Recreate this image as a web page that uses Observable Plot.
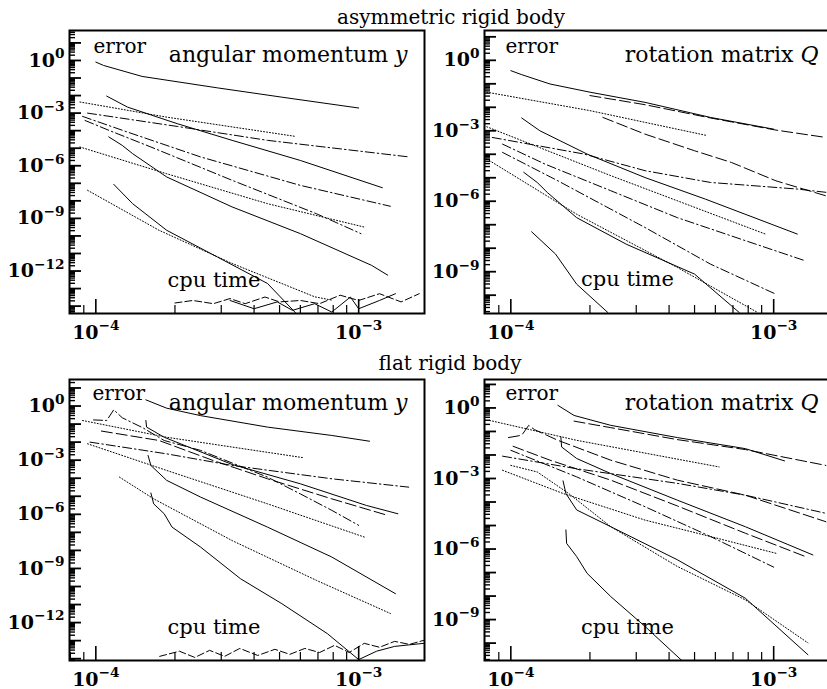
<!DOCTYPE html>
<html><head><meta charset="utf-8">
<script src="https://cdn.jsdelivr.net/npm/d3@7"></script>
<script src="https://cdn.jsdelivr.net/npm/@observablehq/plot@0.6"></script>
<style>
html,body{margin:0;padding:0;background:#fff;}
body{width:827px;height:689px;overflow:hidden;position:relative;font-family:"DejaVu Serif",serif;}
.title{position:absolute;font-size:20px;white-space:nowrap;transform:translateX(-50%);line-height:1;color:#000;}
.panel{position:absolute;width:428px;}
.panel svg{max-width:none !important;}
</style></head><body>
<div class="title" style="left:451px;top:7px">asymmetric rigid body</div>
<div class="title" style="left:450px;top:353px">flat rigid body</div>
<div id="tl" class="panel" style="left:0px;top:0px"></div>
<div id="tr" class="panel" style="left:415px;top:0px"></div>
<div id="bl" class="panel" style="left:0px;top:349px"></div>
<div id="br" class="panel" style="left:415px;top:349px"></div>
<script>
// ---------- axis values ----------
const X_DOMAIN = [7.94e-5, 1.78e-3];
const X_TICKS = [1e-4, 1e-3];
const Y_TICKS_AM = [1, 1e-3, 1e-6, 1e-9, 1e-12];
const Y_TICKS_Q = [1, 1e-3, 1e-6, 1e-9];
const MANTISSAS = [1, 2, 3, 4, 5, 6, 7, 8, 9];

// ---------- asymmetric rigid body, angular momentum y ----------
const tl_s1 = {cpu: [1.0e-4, 1.07e-4, 1.5e-4, 2.9e-4, 5.1e-4, 1.0e-3], err: [0.81, 0.52, 0.123, 0.0275, 8.1e-3, 1.95e-3]};
const tl_s2 = {cpu: [1.1e-4, 1.32e-4, 2.04e-4, 3.3e-4, 6.0e-4, 1.23e-3], err: [9.3e-3, 2.2e-3, 2.5e-4, 2.8e-5, 2.0e-6, 5.6e-8]};
const tl_s3 = {cpu: [1.12e-4, 1.26e-4, 1.38e-4, 1.86e-4, 3.3e-4, 6.0e-4, 1.12e-3, 1.29e-3], err: [4.4e-5, 1.45e-5, 4.9e-6, 2.3e-7, 4.5e-9, 1.35e-10, 2.1e-12, 5.8e-13]};
const tl_s4 = {cpu: [1.17e-4, 1.38e-4, 1.86e-4, 2.9e-4, 4.5e-4, 5.75e-4], err: [8.7e-8, 6.9e-9, 2.1e-10, 6.3e-12, 1.95e-13, 4.2e-15]};
const tl_d1 = {cpu: [8.7e-5, 1.86e-4, 5.75e-4], err: [4.3e-3, 5.9e-4, 4.7e-5]};
const tl_d2 = {cpu: [8.7e-5, 1.86e-4, 4.5e-4, 1.05e-3], err: [1.17e-5, 3.5e-7, 6.9e-9, 3.2e-10]};
const tl_d3 = {cpu: [9.3e-5, 1.74e-4, 3.3e-4, 6.8e-4, 7.9e-4], err: [4.0e-8, 2.1e-10, 2.7e-12, 3.4e-14, 2.2e-14]};
const tl_dd1 = {cpu: [9.3e-5, 2.04e-4, 4.5e-4, 1.55e-3], err: [1.0e-3, 1.74e-4, 2.8e-5, 3.2e-6]};
const tl_dd2 = {cpu: [8.9e-5, 1.32e-4, 2.5e-4, 6.0e-4, 1.32e-3], err: [6.5e-4, 8.3e-5, 3.2e-6, 7.6e-8, 4.9e-9]};
const tl_dd3 = {cpu: [9.1e-5, 1.12e-4, 1.62e-4, 3.3e-4, 6.9e-4, 1.02e-3], err: [3.8e-4, 1.05e-4, 1.17e-5, 1.48e-7, 1.86e-9, 1.35e-10]};
const tl_z1 = {cpu: [2.0e-4, 2.34e-4, 2.8e-4, 3.24e-4, 3.7e-4, 4.4e-4, 5.0e-4, 6.0e-4, 7.1e-4, 8.5e-4, 1.0e-3, 1.2e-3, 1.45e-3, 1.7e-3],
               err: [1.51e-14, 2.1e-14, 1.38e-14, 2.7e-14, 1.38e-14, 3.3e-14, 1.74e-14, 2.1e-14, 1.38e-14, 4.2e-14, 2.1e-14, 5.1e-14, 1.74e-14, 5.1e-14]};
const tl_z2 = {cpu: [3.24e-4, 4.0e-4, 4.9e-4, 5.6e-4, 6.8e-4, 7.9e-4, 9.3e-4, 1.0e-3, 1.2e-3, 1.38e-3],
               err: [2.1e-14, 7.1e-15, 1.74e-14, 5.75e-15, 1.38e-14, 4.6e-15, 3.3e-14, 7.1e-15, 2.1e-14, 5.1e-14]};

// ---------- asymmetric rigid body, rotation matrix Q ----------
const tr_s1 = {cpu: [1.0e-4, 1.1e-4, 1.41e-4, 2.0e-4, 3.24e-4, 5.75e-4, 1.0e-3], err: [0.363, 0.245, 0.098, 0.044, 0.0162, 3.7e-3, 1.17e-3]};
const tr_s2 = {cpu: [1.1e-4, 1.29e-4, 1.95e-4, 3.24e-4, 5.5e-4, 1.23e-3], err: [3.5e-3, 1.0e-3, 1.02e-4, 1.02e-5, 1.23e-6, 4.0e-8]};
const tr_s3 = {cpu: [1.12e-4, 1.26e-4, 1.38e-4, 1.78e-4, 2.75e-4, 5.0e-4, 7.4e-4], err: [1.7e-5, 6.3e-6, 2.3e-6, 2.0e-7, 1.48e-8, 7.9e-10, 1.82e-11]};
const tr_s4 = {cpu: [1.2e-4, 1.48e-4, 1.78e-4, 2.34e-4], err: [5.0e-8, 5.6e-9, 2.95e-10, 1.82e-11]};
const tr_l1 = {cpu: [2.0e-4, 3.24e-4, 5.75e-4, 1.02e-3, 1.58e-3], err: [0.0316, 0.0129, 3.5e-3, 1.07e-3, 5.2e-4]};
const tr_l2 = {cpu: [2.24e-4, 3.24e-4, 5.0e-4, 6.9e-4, 1.02e-3, 1.58e-3], err: [3.7e-3, 7.2e-4, 1.41e-4, 4.5e-5, 7.4e-6, 1.7e-6]};
const tr_d1 = {cpu: [8.1e-5, 2.0e-4, 5.6e-4], err: [0.044, 7.2e-3, 6.2e-4]};
const tr_d2 = {cpu: [8.1e-5, 2.4e-4, 9.3e-4], err: [1.48e-3, 1.23e-5, 4.0e-8]};
const tr_d3 = {cpu: [8.1e-5, 1.78e-4, 4.3e-4, 8.7e-4], err: [6.3e-5, 2.8e-7, 1.51e-9, 1.82e-11]};
const tr_dd1 = {cpu: [8.5e-5, 1.9e-4, 3.24e-4, 5.75e-4, 1.23e-3, 1.58e-3], err: [5.2e-4, 1.02e-4, 2.0e-5, 6.3e-6, 3.3e-6, 2.4e-6]};
const tr_dd2 = {cpu: [9.3e-5, 1.35e-4, 2.4e-4, 4.3e-4, 7.8e-4, 1.32e-3], err: [2.7e-4, 3.8e-5, 2.8e-6, 2.0e-7, 2.1e-8, 2.9e-9]};
const tr_dd3 = {cpu: [9.3e-5, 1.51e-4, 3.24e-4, 5.75e-4, 1.02e-3], err: [1.2e-4, 7.4e-6, 7.6e-8, 2.1e-9, 1.1e-10]};

// ---------- flat rigid body, angular momentum y ----------
const bl_s1 = {cpu: [1.55e-4, 1.86e-4, 2.5e-4, 4.5e-4, 7.9e-4, 1.1e-3], err: [2.2, 0.76, 0.295, 0.068, 0.0234, 0.0112]};
const bl_s2 = {cpu: [1.55e-4, 1.56e-4, 1.82e-4, 3.3e-4, 6.0e-4, 1.07e-3, 1.41e-3], err: [0.158, 0.068, 0.0186, 5.8e-4, 4.9e-5, 3.1e-6, 1.07e-6]};
const bl_s3 = {cpu: [1.58e-4, 1.62e-4, 1.86e-4, 2.5e-4, 4.5e-4, 7.9e-4, 1.38e-3], err: [1.82e-3, 5.1e-4, 7.6e-5, 9.1e-6, 1.95e-7, 4.3e-9, 4.0e-11]};
const bl_s4 = {cpu: [1.62e-4, 1.66e-4, 1.82e-4, 1.95e-4, 2.5e-4, 3.55e-4, 5.1e-4, 7.6e-4, 1.0e-3, 1.17e-3, 1.37e-3, 1.77e-3],
               err: [1.51e-5, 3.8e-6, 1.07e-6, 1.95e-7, 1.55e-8, 2.7e-10, 1.12e-11, 2.45e-13, 8.9e-15, 2.6e-14, 4.8e-14, 7.1e-14]};
const bl_dd1 = {cpu: [9.8e-5, 1.1e-4, 1.17e-4, 1.26e-4, 1.51e-4, 1.82e-4, 2.5e-4, 4.5e-4, 6.0e-4, 7.9e-4, 1.0e-3],
                err: [0.17, 0.158, 0.62, 0.224, 0.062, 0.0123, 3.5e-3, 1.15e-4, 1.35e-5, 1.66e-6, 2.45e-7]};
const bl_dd2 = {cpu: [9.5e-5, 1.86e-4, 3.3e-4, 7.9e-4, 1.55e-3], err: [0.01, 2.24e-3, 5.1e-4, 9.3e-5, 3.2e-5]};
const bl_l1 = {cpu: [1.05e-4, 1.74e-4, 2.8e-4, 4.5e-4, 7.9e-4, 1.29e-3], err: [0.041, 0.0123, 9.5e-4, 9.3e-5, 7.2e-6, 8.7e-7]};
const bl_d1 = {cpu: [8.9e-5, 1.86e-4, 6.2e-4], err: [0.158, 0.0186, 1.35e-3]};
const bl_d2 = {cpu: [9.3e-5, 1.86e-4, 4.5e-4, 1.05e-3], err: [8.1e-3, 2.7e-4, 3.8e-6, 5.5e-8]};
const bl_d3 = {cpu: [1.23e-4, 1.66e-4, 3.3e-4, 6.9e-4, 1.32e-3], err: [1.15e-4, 7.2e-6, 3.5e-8, 2.2e-10, 3.2e-12]};
const bl_z1 = {cpu: [1.75e-4, 2.08e-4, 2.38e-4, 2.71e-4, 3.09e-4, 3.53e-4, 4.13e-4, 4.8e-4, 5.47e-4, 6.24e-4, 7.1e-4, 8.1e-4, 9.2e-4, 1.05e-3, 1.2e-3, 1.37e-3, 1.56e-3, 1.77e-3],
               err: [1.35e-14, 2.6e-14, 1.17e-14, 2.9e-14, 1.35e-14, 3.7e-14, 1.51e-14, 3.3e-14, 1.74e-14, 3.7e-14, 2.2e-14, 5.5e-14, 2.2e-14, 7.1e-14, 4.3e-14, 9.1e-14, 6.2e-14, 1.04e-13]};

// ---------- flat rigid body, rotation matrix Q ----------
const br_s1 = {cpu: [1.51e-4, 1.74e-4, 2.4e-4, 4.3e-4, 7.8e-4, 1.1e-3], err: [1.29, 0.48, 0.182, 0.055, 0.0186, 5.6e-3]};
const br_s2 = {cpu: [1.55e-4, 1.56e-4, 1.78e-4, 2.4e-4, 4.3e-4, 7.8e-4, 1.41e-3], err: [0.058, 0.0219, 7.1e-3, 1.62e-3, 1.2e-4, 8.9e-6, 5.6e-7]};
const br_s3 = {cpu: [1.58e-4, 1.62e-4, 1.78e-4, 2.4e-4, 4.3e-4, 7.8e-4, 1.35e-3], err: [7.9e-4, 2.3e-4, 4.6e-5, 8.9e-6, 3.5e-7, 8.1e-9, 3.2e-11]};
const br_s4 = {cpu: [1.62e-4, 1.63e-4, 1.78e-4, 1.95e-4, 2.4e-4, 3.24e-4, 4.5e-4], err: [6.5e-6, 1.74e-6, 4.8e-7, 9.3e-8, 9.5e-9, 5.1e-10, 1.7e-11]};
const br_l1 = {cpu: [1.74e-4, 2.4e-4, 4.3e-4, 7.8e-4, 1.58e-3], err: [0.275, 0.145, 0.045, 0.017, 3.6e-3]};
const br_l2 = {cpu: [9.8e-5, 1.1e-4, 1.17e-4, 1.23e-4, 1.51e-4, 2.4e-4, 4.3e-4, 7.8e-4, 1.58e-3], err: [0.055, 0.069, 0.182, 0.12, 0.042, 6.0e-3, 8.5e-4, 1.95e-4, 1.45e-5]};
const br_l3 = {cpu: [1.02e-4, 1.41e-4, 2.4e-4, 4.3e-4, 7.8e-4, 1.32e-3], err: [0.0234, 6.0e-3, 8.5e-4, 6.8e-5, 4.7e-6, 4.8e-7]};
const br_dd1 = {cpu: [9.3e-5, 1.78e-4, 4.3e-4, 7.8e-4, 1.58e-3], err: [8.9e-3, 2.6e-3, 6.2e-4, 1.95e-4, 3.3e-5]};
const br_dd2 = {cpu: [1.0e-4, 1.78e-4, 3.24e-4, 5.75e-4, 1.0e-3], err: [0.0158, 1.17e-3, 6.3e-5, 3.4e-6, 1.7e-7]};
const br_d1 = {cpu: [8.3e-5, 1.78e-4, 6.2e-4], err: [0.295, 0.042, 3.1e-3]};
const br_d2 = {cpu: [9.3e-5, 1.58e-4, 3.24e-4, 5.75e-4, 1.02e-3], err: [2.24e-3, 2.3e-4, 1.7e-5, 3.4e-6, 6.6e-7]};
const br_d3 = {cpu: [1.0e-4, 1.26e-4, 1.66e-4, 2.4e-4, 4.3e-4, 7.8e-4, 1.35e-3], err: [3.6e-3, 1.9e-3, 2.3e-4, 8.9e-6, 1.82e-7, 6.9e-9, 1.02e-10]};

// ---------- drawing ----------
const DASH = {solid: null, dot: "1,2", dashdot: "9,3,1.5,3", dash: "11,4", sdash: "7,3"};

function lineMark(s, style) {
  const rows = s.cpu.map((c, i) => ({cpu: c, err: s.err[i]}));
  const o = {x: "cpu", y: "err", stroke: "#000", strokeWidth: 1, clip: true};
  if (DASH[style]) o.strokeDasharray = DASH[style];
  return Plot.line(rows, o);
}

// log tick positions (mantissa × power of ten) inside a domain
function logTicks(domain, major) {
  const lo = Math.floor(Math.log10(domain[0])), hi = Math.ceil(Math.log10(domain[1]));
  const out = [];
  for (let k = lo; k <= hi; k++) {
    for (const m of (major ? [1] : MANTISSAS.slice(1))) {
      const v = +(m + "e" + k);
      if (v >= domain[0] && v <= domain[1]) out.push(v);
    }
  }
  return out;
}

function makePanel(p) {
  const FW = 355, FH = p.fh, mL = 69, mT = 30, mR = 4, mB = 36;
  const supText = d => "10^" + Math.round(Math.log10(d));
  const svg = Plot.plot({
    width: mL + FW + mR, height: mT + FH + mB,
    marginLeft: mL, marginTop: mT, marginRight: mR, marginBottom: mB,
    x: {type: "log", domain: X_DOMAIN, axis: null},
    y: {type: "log", domain: p.yDomain, axis: null},
    style: {fontFamily: "DejaVu Serif, serif", background: "transparent", overflow: "visible", color: "#000", maxWidth: "none"},
    marks: [
      ...p.series.map(([s, st]) => lineMark(s, st)),
      Plot.tickY(logTicks(p.yDomain, false), {y: d => d, insetRight: FW - 6, stroke: "#000", strokeWidth: 1.4}),
      Plot.tickY(logTicks(p.yDomain, true), {y: d => d, insetRight: FW - 12, stroke: "#000", strokeWidth: 1.8}),
      Plot.tickX(logTicks(X_DOMAIN, false), {x: d => d, insetTop: FH - 8, stroke: "#000", strokeWidth: 1.2}),
      Plot.tickX(logTicks(X_DOMAIN, true), {x: d => d, insetTop: FH - 14, stroke: "#000", strokeWidth: 1.6}),
      Plot.text(p.yTicks, {y: d => d, frameAnchor: "left", dx: -5, textAnchor: "end", lineAnchor: "middle", text: supText, fontSize: 19, fontWeight: "bold", fill: "#000"}),
      Plot.text(X_TICKS, {x: d => d, frameAnchor: "bottom", dy: 25, lineAnchor: "bottom", text: supText, fontSize: 19, fontWeight: "bold", fill: "#000"}),
      Plot.text([p.label], {frameAnchor: "top-left", dx: p.labelDx, dy: p.labelDy, textAnchor: "end", lineAnchor: "bottom", text: d => d, fontSize: 22, fill: "#000"}),
      Plot.text(["error"], {frameAnchor: "top-left", dx: p.errDx, dy: p.errDy, textAnchor: "start", lineAnchor: "bottom", text: d => d, fontSize: 20, fill: "#000"}),
      Plot.text(["cpu time"], {frameAnchor: "top-left", dx: p.cpuDx, dy: p.cpuDy, textAnchor: "start", lineAnchor: "bottom", text: d => d, fontSize: 21, fill: "#000"}),
      Plot.frame({stroke: "#000", strokeWidth: 2})
    ]
  });
  svg.style.maxWidth = "none";
  const NS = "http://www.w3.org/2000/svg";
  svg.querySelectorAll("text").forEach(t => {
    const m = /^10\^(-?\d+)$/.exec(t.textContent);
    if (m) {
      t.textContent = "10";
      const ts = document.createElementNS(NS, "tspan");
      ts.setAttribute("dy", "-0.6em");
      ts.setAttribute("style", "font-size:72%");
      ts.textContent = m[1].replace("-", "\u2212");
      t.appendChild(ts);
      return;
    }
    const m2 = /^(.*) ([yQ])$/.exec(t.textContent);
    if (m2) {
      t.textContent = m2[1] + " ";
      const ts = document.createElementNS(NS, "tspan");
      ts.setAttribute("font-style", "italic");
      ts.textContent = m2[2];
      t.appendChild(ts);
    }
  });
  document.getElementById(p.id).appendChild(svg);
}

makePanel({id: "tl", fh: 283, yDomain: [3.8e-15, 51], yTicks: Y_TICKS_AM, label: "angular momentum y",
  labelDx: 338, labelDy: 31.5, errDx: 24, errDy: 22.5, cpuDx: 98, cpuDy: 256.5,
  series: [[tl_s1, "solid"], [tl_s2, "solid"], [tl_s3, "solid"], [tl_s4, "solid"],
           [tl_d1, "dot"], [tl_d2, "dot"], [tl_d3, "dot"],
           [tl_dd1, "dashdot"], [tl_dd2, "dashdot"], [tl_dd3, "dashdot"],
           [tl_z1, "sdash"], [tl_z2, "solid"]]});
makePanel({id: "tr", fh: 283, yDomain: [1.66e-11, 18.6], yTicks: Y_TICKS_Q, label: "rotation matrix Q",
  labelDx: 334, labelDy: 31.5, errDx: 21, errDy: 22.5, cpuDx: 96.5, cpuDy: 255.5,
  series: [[tr_s1, "solid"], [tr_s2, "solid"], [tr_s3, "solid"], [tr_s4, "solid"],
           [tr_l1, "dash"], [tr_l2, "dash"],
           [tr_d1, "dot"], [tr_d2, "dot"], [tr_d3, "dot"],
           [tr_dd1, "dashdot"], [tr_dd2, "dashdot"], [tr_dd3, "dashdot"]]});
makePanel({id: "bl", fh: 281, yDomain: [7.94e-15, 29.5], yTicks: Y_TICKS_AM, label: "angular momentum y",
  labelDx: 338, labelDy: 30, errDx: 23, errDy: 20.5, cpuDx: 98, cpuDy: 254.5,
  series: [[bl_s1, "solid"], [bl_s2, "solid"], [bl_s3, "solid"], [bl_s4, "solid"],
           [bl_dd1, "dashdot"], [bl_dd2, "dashdot"], [bl_l1, "dash"],
           [bl_d1, "dot"], [bl_d2, "dot"], [bl_d3, "dot"],
           [bl_z1, "sdash"]]});
makePanel({id: "br", fh: 281, yDomain: [1.82e-11, 16.2], yTicks: Y_TICKS_Q, label: "rotation matrix Q",
  labelDx: 334, labelDy: 30, errDx: 21, errDy: 20.5, cpuDx: 96.5, cpuDy: 254.5,
  series: [[br_s1, "solid"], [br_s2, "solid"], [br_s3, "solid"], [br_s4, "solid"],
           [br_l1, "dash"], [br_l2, "dash"], [br_l3, "dash"],
           [br_dd1, "dashdot"], [br_dd2, "dashdot"],
           [br_d1, "dot"], [br_d2, "dot"], [br_d3, "dot"]]});
</script>
</body></html>
